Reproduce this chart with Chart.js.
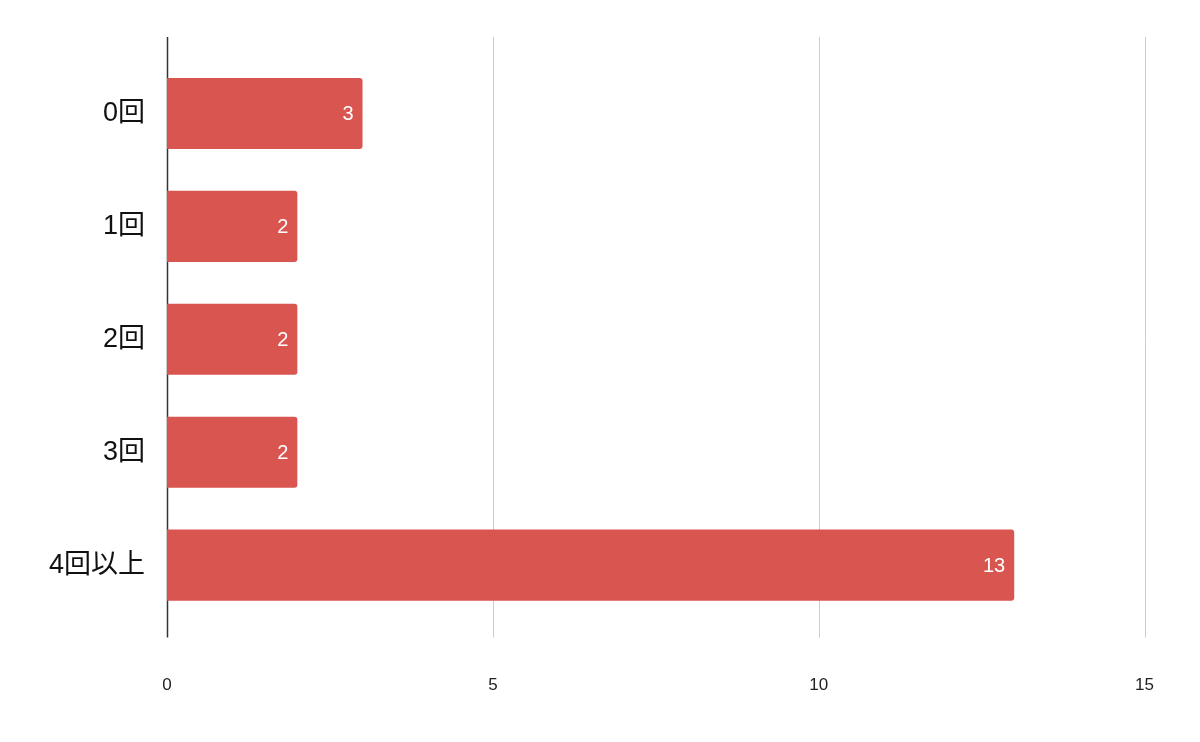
<!DOCTYPE html><html><head><meta charset="utf-8">
<script src="https://cdn.jsdelivr.net/npm/chart.js@4/dist/chart.umd.min.js"></script>
<style>body{margin:0;background:#fff}#w{width:1200px;height:742px}</style></head><body>
<div id="w"><canvas id="c"></canvas></div>
<script>
const categories=["0回","1回","2回","3回","4回以上"];
const values=[3,2,2,2,13];
const xTicks=[0,5,10,15];
const plug={id:'p',
beforeDatasetsDraw(ch){const x=ch.scales.x,a=ch.chartArea,ctx=ch.ctx;ctx.save();
xTicks.forEach(t=>{const px=Math.round(x.getPixelForValue(t))+0.5;ctx.strokeStyle=t===0?'#333':'#ccc';ctx.lineWidth=t===0?1.5:1;ctx.beginPath();ctx.moveTo(px,a.top-20);ctx.lineTo(px,a.bottom+16);ctx.stroke();});ctx.restore();},
afterDatasetsDraw(ch){const ctx=ch.ctx;ctx.save();ctx.font='20px Arial, "Liberation Sans"';ctx.fillStyle='#fff';ctx.textAlign='right';ctx.textBaseline='middle';
ch.getDatasetMeta(0).data.forEach((b,i)=>{ctx.fillText(String(values[i]),b.x-9,b.y+1);});ctx.restore();}};
new Chart(document.getElementById('c'),{type:'bar',data:{labels:categories,datasets:[{data:values,backgroundColor:'#d95550',borderRadius:3,borderSkipped:'start',barPercentage:0.63,categoryPercentage:1}]},
options:{indexAxis:'y',responsive:true,maintainAspectRatio:false,animation:false,
layout:{padding:{top:57,right:31,left:35,bottom:0}},
plugins:{legend:{display:false},tooltip:{enabled:false}},
scales:{x:{min:0,max:15,afterBuildTicks(s){s.ticks=xTicks.map(v=>({value:v}));},grid:{display:false},border:{display:false},ticks:{color:'#222',font:{size:17,family:'Arial, "Liberation Sans"'},padding:46}},
y:{grid:{display:false},border:{display:false},ticks:{color:'#111',font:{size:27,family:'"Liberation Sans", Arial, "Noto Sans CJK JP"'},padding:14}}}},plugins:[plug]});
</script></body></html>
